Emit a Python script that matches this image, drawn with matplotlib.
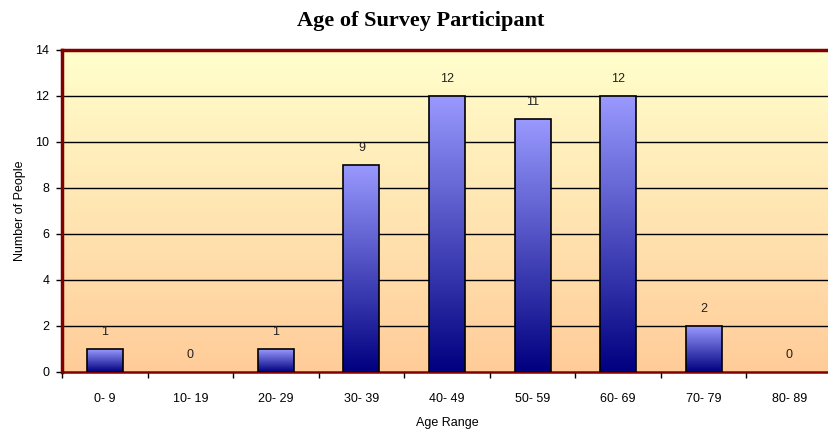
import numpy as np
import matplotlib
matplotlib.use("Agg")
import matplotlib.pyplot as plt
from matplotlib.colors import LinearSegmentedColormap

categories = ["0- 9", "10- 19", "20- 29", "30- 39", "40- 49", "50- 59", "60- 69", "70- 79", "80- 89"]
counts = [1, 0, 1, 9, 12, 11, 12, 2, 0]
yticks = [0, 2, 4, 6, 8, 10, 12, 14]

plt.rcParams['font.family'] = ['Liberation Sans', 'DejaVu Sans']

fig = plt.figure(figsize=(8.29, 4.30), dpi=100)
ax = fig.add_axes([62/829, 1-372/430, (832-62)/829, (372-50)/430])

x = np.arange(len(categories))
ax.set_xlim(-0.5, len(categories)-0.5)
ax.set_ylim(0, 14)

# background gradient
bg_cmap = LinearSegmentedColormap.from_list("bg", ["#ffcc99", "#ffffcc"])
grad = np.linspace(0, 1, 256).reshape(-1, 1)
ax.imshow(grad, aspect='auto', cmap=bg_cmap, origin='lower',
          extent=[-0.5, len(categories)-0.5, 0, 14], zorder=0)

for yv in yticks[1:-1]:
    ax.axhline(yv, color='black', lw=1, zorder=1)

bar_cmap = LinearSegmentedColormap.from_list("bar", ["#000080", "#9999ff"])
bars = ax.bar(x, counts, width=0.42, facecolor='none', edgecolor='black', lw=1.2, zorder=3)
for b, v in zip(bars, counts):
    if v > 0:
        im = ax.imshow(grad, aspect='auto', cmap=bar_cmap, origin='lower',
                       extent=[b.get_x(), b.get_x()+b.get_width(), 0, v], zorder=2)
        im.set_clip_path(b)
    else:
        b.set_visible(False)
    ax.annotate(str(v), (b.get_x()+b.get_width()/2, v), xytext=(0, 12),
                textcoords='offset points', ha='center', va='center', fontsize=9, color='#222222')

ax.set_xlim(-0.5, len(categories)-0.5)
ax.set_ylim(0, 14)

ax.set_xticks(x)
ax.set_xticklabels(categories, fontsize=9)
ax.set_xticks(np.arange(-0.5, len(categories)), minor=True)
ax.tick_params(axis='x', which='major', length=0, pad=15)
ax.tick_params(axis='x', which='minor', length=4, width=1)
ax.set_yticks(yticks)
ax.set_yticklabels([str(v) for v in yticks], fontsize=9)
ax.tick_params(axis='y', length=4, width=1, pad=5)

for s in ['left', 'top']:
    ax.spines[s].set_color('#800000')
    ax.spines[s].set_linewidth(2.5)
ax.spines['bottom'].set_color('#800000')
ax.spines['bottom'].set_linewidth(1.8)
ax.spines['right'].set_visible(False)

ax.set_xlabel("Age Range", fontsize=9, labelpad=9)
ax.set_ylabel("Number of People", fontsize=9, labelpad=7)
fig.text(421/829, 1-21/430, "Age of Survey Participant", ha='center', va='center',
         fontsize=16, fontweight='bold', family='Liberation Serif')

fig.savefig("out.png", dpi=100)
